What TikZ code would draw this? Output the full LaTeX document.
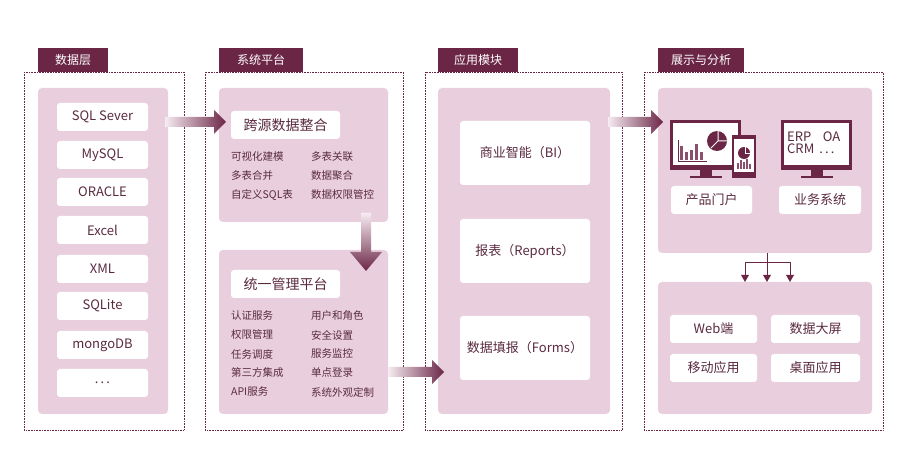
\documentclass[tikz,border=0pt]{standalone}
\usepackage{fontspec}
\setmainfont{Noto Sans CJK SC}
\usetikzlibrary{shapes.geometric}
\definecolor{mar}{HTML}{6B2646}
\definecolor{pnl}{HTML}{E9CFDD}
\definecolor{txt}{HTML}{5A2A40}
\begin{document}
\begin{tikzpicture}[x=1pt,y=-1pt,
 outer/.style={draw=mar,densely dotted,line width=0.6pt},
 panel/.style={fill=pnl,rounded corners=4pt},
 wbox/.style={fill=white,rounded corners=3pt,text=txt,font=\fontsize{13}{14}\selectfont,inner sep=0pt},
 sm/.style={text=txt,font=\fontsize{10.5}{11}\selectfont,anchor=west,inner sep=0pt},
 ]
\useasboundingbox (0,0) rectangle (914,462);
\foreach \a/\b/\t/\tb/\n in {24/184/38/108/数据层,205/403/219/303/系统平台,425/622/438/518/应用模块,644/883/658/744/展示与分析}{
 \draw[outer] (\a,72) rectangle (\b,430);
 \fill[mar] (\t,48) rectangle (\tb,72);
 \node[text=white,font=\fontsize{12}{12}\selectfont] at ({(\t+\tb)/2},60) {\n};
}
% col1
\fill[panel] (38,88) rectangle (168,414);
\foreach \y/\s [count=\i] in {117/SQL Sever,155/MySQL,192/ORACLE,230/Excel,269/XML,306/SQLite,345/mongoDB,383/{.\,.\,.}}{
 \node[wbox,minimum width=91pt,minimum height=28pt] (d\i) at (102.5,\y) {\s};
}
% col2
\fill[panel] (219,88) rectangle (388,222);
\node[wbox,minimum width=109pt,minimum height=28pt,font=\fontsize{14}{14}\selectfont] (t1) at (285.5,125) {跨源数据整合};
\foreach \y/\l/\r in {157/可视化建模/多表关联,176/多表合并/数据聚合,195/自定义SQL表/数据权限管控}{
 \node[sm] at (231,\y) {\l}; \node[sm] at (311,\y) {\r};}
\fill[panel] (219,250) rectangle (388,414);
\node[wbox,minimum width=109pt,minimum height=28pt,font=\fontsize{14}{14}\selectfont] (t2) at (285.5,284) {统一管理平台};
\foreach \y/\l/\r in {316/认证服务/用户和角色,335/权限管理/安全设置,354/任务调度/服务监控,373/第三方集成/单点登录,392/API服务/系统外观定制}{
 \node[sm] at (231,\y) {\l}; \node[sm] at (311,\y) {\r};}
% col3
\fill[panel] (438,88) rectangle (610,414);
\node[wbox,minimum width=130pt,minimum height=64pt] (m1) at (525,153) {商业智能（BI）};
\node[wbox,minimum width=130pt,minimum height=64pt] (m2) at (525,251) {报表（Reports）};
\node[wbox,minimum width=130pt,minimum height=64pt] (m3) at (525,348) {数据填报（Forms）};
% col4
\fill[panel] (658,88) rectangle (872,253);
\fill[panel] (658,282) rectangle (872,414);
% monitor 1
\fill[mar] (670,120) rectangle (741,170);
\fill[white] (673,123) rectangle (738,165);
\fill[mar] (700,170) rectangle (712,176); \fill[mar] (690,176) rectangle (722,178);
\foreach \x/\h in {680/14,685/8,690/10,695/16,700/8}{\fill[mar!80] (\x,160-\h) rectangle ++(3,\h);}
\draw[mar,line width=0.6pt] (678,140)--(678,161)--(707,161);
\fill[mar] (717,141) circle (10pt);
\draw[white,line width=1pt] (718,131)--(718,141)--(728,141) (718,141)--(711,148);
% tablet
\fill[mar] (732,135) rectangle (756,178);
\fill[white] (734,139) rectangle (754,172);
\fill[mar] (744,153) circle (6pt);
\draw[white,line width=0.7pt] (745,147)--(745,153)--(750,153);
\foreach \x/\h in {737/6,740/9,743/7,746/10,749/5}{\fill[mar!80] (\x,169-\h) rectangle ++(1.8,\h);}
% monitor 2
\fill[mar] (781,120) rectangle (852,170);
\fill[white] (784,123) rectangle (849,165);
\fill[mar] (811,170) rectangle (823,176); \fill[mar] (801,176) rectangle (833,178);
\node[text=txt,font=\fontsize{13}{13}\selectfont,anchor=west,inner sep=0pt,align=left] at (787,143) {ERP\enspace\, OA\\[-1pt]CRM\, .\,.\,.};
\node[wbox,minimum width=81pt,minimum height=28pt] (p1) at (711.5,200) {产品门户};
\node[wbox,minimum width=82pt,minimum height=28pt] (p2) at (820,200) {业务系统};
\node[wbox,minimum width=87pt,minimum height=28pt] (q1) at (713.5,329) {Web端};
\node[wbox,minimum width=89pt,minimum height=28pt] (q2) at (815.5,329) {数据大屏};
\node[wbox,minimum width=87pt,minimum height=28pt] (q3) at (713.5,368) {移动应用};
\node[wbox,minimum width=89pt,minimum height=28pt] (q4) at (815.5,368) {桌面应用};
% tree arrow
\coordinate (tr) at (767,253);
\draw[mar,line width=0.8pt] (tr)--(767,262) (745,262)--(790,262);
\foreach \x in {745,767,790}{\draw[mar,line width=0.8pt] (\x,262)--(\x,276);
 \fill[mar] (\x-4,275)--(\x+4,275)--(\x,282)--cycle;}
% gradient arrows
\def\harrow#1#2#3{\shade[left color=pnl!40,right color=mar] (#1,#3-5)--(#2-12,#3-5)--(#2-12,#3-12)--(#2,#3)--(#2-12,#3+12)--(#2-12,#3+5)--(#1,#3+5)--cycle;}
\harrow{165}{226}{122}
\harrow{388}{444}{372}
\harrow{608}{663}{122}
\shade[top color=pnl!40,bottom color=mar] (361,213)--(361,252)--(350,252)--(366,271)--(382,252)--(371,252)--(371,213)--cycle;
\end{tikzpicture}
\end{document}
